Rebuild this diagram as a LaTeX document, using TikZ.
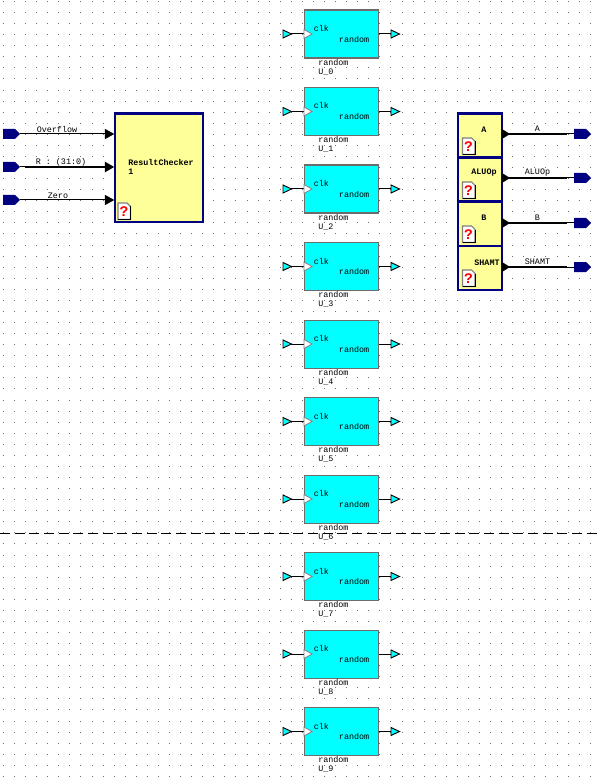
\documentclass[tikz,border=0pt]{standalone}
\usepackage{fontspec}
\setmainfont{Liberation Mono}
\usetikzlibrary{arrows.meta}
\definecolor{navyb}{HTML}{000080}
\definecolor{yel}{HTML}{FFFF99}
\definecolor{cyn}{HTML}{00FFFF}
\definecolor{gridc}{HTML}{707070}
\tikzset{
  txt/.style={font=\fontsize{6.3pt}{7.5pt}\selectfont,inner sep=0pt,text=black},
  btxt/.style={txt,font=\fontsize{6.3pt}{7.5pt}\selectfont\bfseries},
  randblock/.style={draw=gray!85!black,line width=0.9pt,fill=cyn,minimum width=55.5pt,minimum height=36pt,inner sep=0pt,anchor=north west},
  yelblock/.style={draw=navyb,line width=1.6pt,fill=yel,inner sep=0pt,anchor=north west},
  wire/.style={draw=black,line width=0.75pt},
  bus/.style={draw=black,line width=1.6pt},
  tip/.style={-{Triangle[length=7pt,width=7.5pt]}},
}
\newcommand{\navyport}[1]{\fill[navyb] ([shift={(0,-5)}]#1) -- ++(12,0) -- ++(5,5) -- ++(-5,5) -- ++(-12,0) -- cycle;}
\newcommand{\cyanport}[1]{\draw[black,fill=cyn,line width=0.7pt] ([shift={(0,-4)}]#1) -- ++(8.5,4) -- ++(-8.5,4) -- cycle;}
\newcommand{\docicon}[1]{%
  \draw[draw=gray,fill=white,line width=0.8pt] (#1) -- ++(9,0) -- ++(3.5,3.5) -- ++(0,13) -- ++(-12.5,0) -- cycle;
  \draw[black,line width=0.6pt] ([shift={(12.5,3.5)}]#1) -- ++(0,13) -- ++(-12.5,0);
  \node[font=\fontsize{11pt}{11pt}\selectfont\bfseries,text=red,inner sep=0pt] at ([shift={(6,9)}]#1) {?};
}
\begin{document}
\begin{tikzpicture}[x=0.75pt,y=-0.75pt]
\useasboundingbox (0,0) rectangle (597,777);
\fill[white] (0,0) rectangle (597,777);
% dot grid
\foreach \a in {0,...,53}{\foreach \b in {0,...,70}{
  \fill[gridc] ({3+\a*11.07},{1+\b*11.07}) rectangle ++(1,1);
}}
% separator
\coordinate (sepL) at (0,533.5);
\coordinate (sepR) at (597,533.5);
\draw[black,line width=0.75pt,dash pattern=on 7.5pt off 3.5pt] (sepL) -- (sepR);
% random blocks
\foreach \i/\t in {0/9.5,1/87,2/164.5,3/242,4/319.5,5/397,6/474.5,7/552,8/629.5,9/707}{
  \node[randblock] (r\i) at (304,\t) {};
  \coordinate (pi\i) at (283,\t+24.5);
  \coordinate (po\i) at (391,\t+24.5);
  \coordinate (pa\i) at (291,\t+24.5);
  \draw[wire] (pa\i) -- (r\i.west |- pa\i);
  \draw[wire] (r\i.east |- po\i) -- (po\i);
  \cyanport{pi\i}
  \cyanport{po\i}
  \draw[draw=gray,fill=white,line width=0.6pt] (304,\t+20) -- (312,\t+24.5) -- (304,\t+29) -- cycle;
  \node[txt,anchor=west] (c\i) at (313.5,\t+19) {clk};
  \node[txt,anchor=east] (o\i) at (369.5,\t+30) {random};
  \node[txt,anchor=west] (t\i) at (318,\t+53) {random};
  \node[txt,anchor=west] (u\i) at (318,\t+62.5) {U\_\i};
}
% ResultChecker
\node[yelblock,minimum width=66pt,minimum height=81.5pt] (rc) at (114.3,112.5) {};
\node[btxt,anchor=west] (rct) at (128,162) {ResultChecker};
\node[btxt,anchor=west] (rcn) at (128,172) {1};
\docicon{118,203}
\foreach \n/\y in {a/134,b/167,c/200}{
  \coordinate (in\n) at (3,\y);
  \coordinate (ie\n) at (20,\y);
  \navyport{in\n}
}
\draw[wire,tip] (iea) -- (rc.west |- iea);
\draw[wire] (ieb) -- ++(5,0);
\draw[bus,tip] ([xshift=5*0.75pt]ieb) -- (rc.west |- ieb);
\draw[wire,tip] (iec) -- (rc.west |- iec);
\node[txt] (l1) at (57,129.5) {Overflow};
\node[txt] (l2) at (61,162) {R : (31:0)};
\node[txt] (l3) at (58,195.5) {Zero};
% output blocks
\foreach \n/\t/\h/\wy/\tx/\ty/\lab in {A/112.5/44/134/484/130/A,L/156.5/44/178/484/173/ALUOp,B/200.5/44/223/484/218/B,S/244.5/44/267/487/263/SHAMT}{
  \node[yelblock,minimum width=33pt,minimum height=33pt] (y\n) at (457.3,\t) {};
  \node[btxt] (yt\n) at (\tx,\ty) {\lab};
  \docicon{462.5,\t+25.5}
  \coordinate (op\n) at (574,\wy);
  \coordinate (oq\n) at (567,\wy);
  \fill[navyb] (574,\wy-5) -- ++(12,0) -- ++(5,5) -- ++(-5,5) -- ++(-12,0) -- cycle;
  \draw[bus] (y\n.east |- oq\n) -- (oq\n);
  \draw[wire] (oq\n) -- (op\n);
  \fill[black] (502,\wy-5) -- (510,\wy) -- (502,\wy+5) -- cycle;
  \node[txt] (ol\n) at (537.5,\wy-5) {\lab};
}
\end{tikzpicture}
\end{document}
